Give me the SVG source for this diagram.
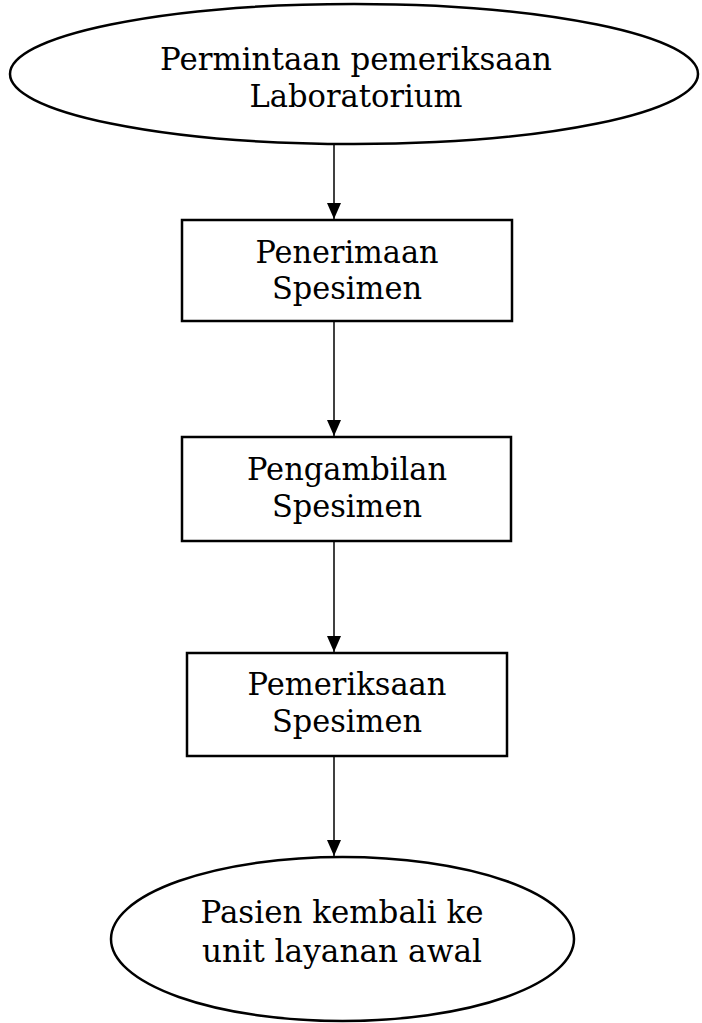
<svg xmlns="http://www.w3.org/2000/svg" width="702" height="1023" viewBox="0 0 702 1023">
  <style>
    .shape { fill: #ffffff; stroke: #000000; stroke-width: 2.5; }
    .label { font-family: "DejaVu Serif", "Liberation Serif", serif; font-size: 31px; fill: #000000; text-anchor: middle; }
    .link { stroke: #000000; stroke-width: 1.5; fill: none; marker-end: url(#arrow); }
  </style>
  <defs>
    <!-- filled triangular head, tip sits on the line end -->
    <marker id="arrow" markerUnits="userSpaceOnUse" markerWidth="16" markerHeight="14" refX="16" refY="7" orient="auto" viewBox="0 0 16 14">
      <path d="M0,0 L16,7 L0,14 Z" fill="#000000"/>
    </marker>
  </defs>
  <rect width="702" height="1023" fill="#ffffff"/>

  <g id="connectors">
    <line class="link" x1="334" y1="145" x2="334" y2="219"/>
    <line class="link" x1="334" y1="322" x2="334" y2="436"/>
    <line class="link" x1="334" y1="541" x2="334" y2="652"/>
    <line class="link" x1="334" y1="757" x2="334" y2="856"/>
  </g>

  <g id="node-permintaan">
    <ellipse class="shape" cx="354" cy="74" rx="344" ry="70"/>
    <text class="label" x="356" y="70" textLength="392" lengthAdjust="spacingAndGlyphs">Permintaan pemeriksaan</text>
    <text class="label" x="356" y="107" textLength="213" lengthAdjust="spacingAndGlyphs">Laboratorium</text>
  </g>

  <g id="node-penerimaan">
    <rect class="shape" x="182" y="220" width="330" height="101"/>
    <text class="label" x="347" y="263" textLength="183" lengthAdjust="spacingAndGlyphs">Penerimaan</text>
    <text class="label" x="347" y="299" textLength="150" lengthAdjust="spacingAndGlyphs">Spesimen</text>
  </g>

  <g id="node-pengambilan">
    <rect class="shape" x="182" y="437" width="329" height="104"/>
    <text class="label" x="347" y="480" textLength="200" lengthAdjust="spacingAndGlyphs">Pengambilan</text>
    <text class="label" x="347" y="517" textLength="150" lengthAdjust="spacingAndGlyphs">Spesimen</text>
  </g>

  <g id="node-pemeriksaan">
    <rect class="shape" x="187" y="653" width="320" height="103"/>
    <text class="label" x="347" y="695" textLength="199" lengthAdjust="spacingAndGlyphs">Pemeriksaan</text>
    <text class="label" x="347" y="732" textLength="150" lengthAdjust="spacingAndGlyphs">Spesimen</text>
  </g>

  <g id="node-kembali">
    <ellipse class="shape" cx="342.5" cy="939" rx="231.5" ry="82"/>
    <text class="label" x="342" y="923" textLength="283" lengthAdjust="spacingAndGlyphs">Pasien kembali ke</text>
    <text class="label" x="342" y="962" textLength="280" lengthAdjust="spacingAndGlyphs">unit layanan awal</text>
  </g>
</svg>
